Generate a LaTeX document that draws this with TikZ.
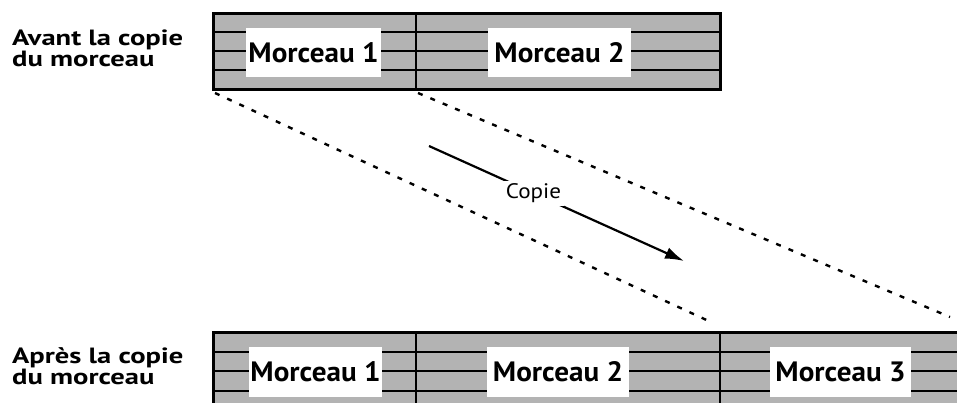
\documentclass[tikz,border=0pt]{standalone}
\usepackage{fontspec}
\setmainfont{PT Sans}
\usetikzlibrary{arrows.meta}
\definecolor{bargray}{HTML}{B3B3B3}
\newcommand{\twolines}[2]{\scalebox{1.36}[1.05]{\begin{tabular}[t]{@{}l@{}}#1\\#2\end{tabular}}}
\newcommand{\wider}[1]{\scalebox{1.04}[1]{#1}}
\begin{document}
\begin{tikzpicture}[x=1pt,y=-1pt,
  bar/.style={fill=bargray,draw=black,line width=3pt},
  rowline/.style={line width=2.6pt},
  divline/.style={line width=1.6pt},
  piece/.style={fill=white,inner sep=0pt,minimum height=49pt,font=\bfseries\fontsize{28}{30}\selectfont},
  sidelabel/.style={anchor=base west,inner sep=0pt,font=\bfseries\fontsize{21}{19}\selectfont},
  guide/.style={line width=2.4pt,dash pattern=on 5pt off 8.4pt},
  copyarrow/.style={line width=2.2pt,-{Latex[length=19pt,width=12pt]}}
]
\useasboundingbox (0,0) rectangle (957,402);
\begin{scope}
\clip (0,0) rectangle (957,402);
% top bar
\draw[bar] (213,13) rectangle (720,89);
\foreach \yy in {32,51,70} \draw[rowline] (213,\yy) -- (720,\yy);
\draw[divline] (416,13) -- (416,89);
% bottom bar
\draw[bar] (213,332) rectangle (1000,411);
\foreach \yy in {352,371,391} \draw[rowline] (213,\yy) -- (1000,\yy);
\draw[divline] (416,332) -- (416,411);
\draw[divline] (720,332) -- (720,411);
\end{scope}
% piece labels
\node[piece,minimum width=135pt] (t1) at (313.5,52.5) {\wider{Morceau 1}};
\node[piece,minimum width=143pt] (t2) at (559.5,52.5) {\wider{Morceau 2}};
\node[piece,minimum width=133pt,minimum height=50pt] (b1) at (315.5,372) {\wider{Morceau 1}};
\node[piece,minimum width=142pt,minimum height=50pt] (b2) at (558,372) {\wider{Morceau 2}};
\node[piece,minimum width=141pt,minimum height=50pt] (b3) at (840.5,372) {\wider{Morceau 3}};
% side labels
\node[sidelabel] (avant) at (12,45) {\twolines{Avant la copie}{du morceau}};
\node[sidelabel] (apres) at (12,363) {\twolines{Après la copie}{du morceau}};
% guide lines
\coordinate (g1s) at (215,93);
\coordinate (g1e) at (713,323);
\coordinate (g2s) at (418,93);
\coordinate (g2e) at (950,317);
\draw[guide] (g1s) -- (g1e);
\draw[guide] (g2s) -- (g2e);
% arrow
\coordinate (as) at (429,146);
\coordinate (ae) at (684,261);
\draw[copyarrow] (as) -- node[pos=0.41,fill=white,inner sep=3pt,font=\fontsize{21}{24}\selectfont] (copie) {\scalebox{1.1}[1]{Copie}} (ae);
\end{tikzpicture}
\end{document}
